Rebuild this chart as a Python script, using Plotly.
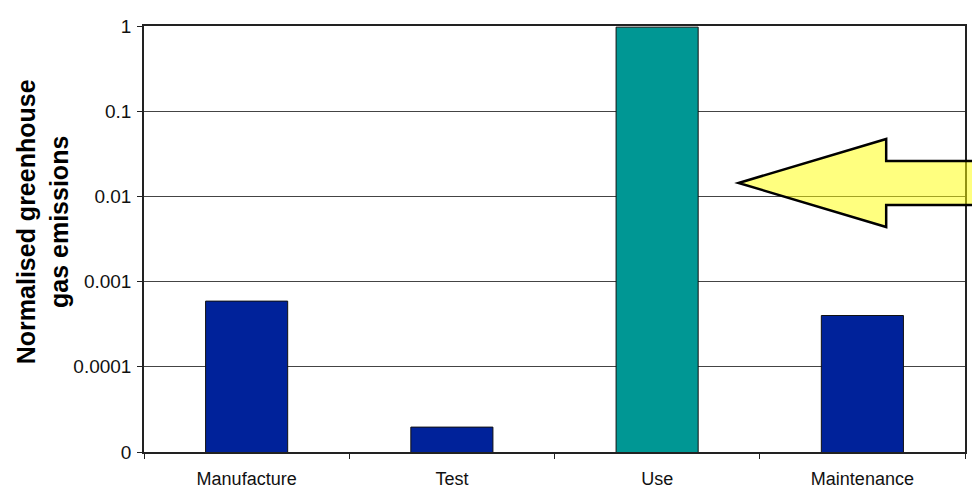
import plotly.graph_objects as go

categories = ["Manufacture", "Test", "Use", "Maintenance"]
emissions = [0.00059, 0.0000196, 0.97, 0.00040]
bar_colors = ["#00229A", "#00229A", "#009794", "#00229A"]
tick_vals = [1e-5, 1e-4, 1e-3, 1e-2, 1e-1, 1]
tick_text = ["0", "0.0001", "0.001", "0.01", "0.1", "1"]

FONT = "Liberation Sans, Arial, sans-serif"

fig = go.Figure()
fig.add_trace(go.Bar(
    x=categories, y=emissions, width=0.4,
    marker=dict(color=bar_colors, line=dict(color="#111111", width=1)),
    showlegend=False, hoverinfo="x+y",
))

# pixel helpers for decoration arrow (paper coordinates)
L, R, T, B = 144, 967, 26, 452
W, H = 972, 497
def px(x):
    return (x - L) / (R - L)
def py(y):
    return (B - y) / (B - T)

arrow = [(740, 183), (888, 139), (888, 161), (985, 161), (985, 205), (888, 205), (888, 227)]
path = "M " + " L ".join(f"{px(a):.4f},{py(b):.4f}" for a, b in arrow) + " Z"
fig.add_shape(type="path", xref="paper", yref="paper", path=path,
              fillcolor="rgba(255,255,0,0.5)", line=dict(color="black", width=2.5),
              layer="above")

fig.add_annotation(
    text="<b>Normalised greenhouse<br>gas emissions</b>",
    xref="paper", yref="paper", x=px(42), y=py(222),
    xanchor="center", yanchor="middle", textangle=-90, showarrow=False,
    font=dict(family=FONT, size=25, color="black"),
)

fig.update_layout(
    width=W, height=H,
    margin=dict(l=L, r=W - R, t=T, b=H - B),
    paper_bgcolor="white", plot_bgcolor="white",
    font=dict(family=FONT, size=18, color="black"),
    xaxis=dict(
        type="category", showline=True, linecolor="#222", linewidth=1.5, mirror=True,
        ticks="outside", tickson="boundaries", ticklen=5, tickcolor="#222",
        showgrid=False, ticklabelstandoff=10,
        tickfont=dict(family=FONT, size=18, color="#111"),
    ),
    yaxis=dict(
        type="log", range=[-5, 0], showline=True, linecolor="#222", linewidth=1.5,
        mirror=True, ticks="outside", ticklen=5, tickcolor="#222",
        tickvals=tick_vals, ticktext=tick_text,
        showgrid=True, gridcolor="#444", gridwidth=1.2,
        tickfont=dict(family=FONT, size=19, color="#111"),
        ticklabelstandoff=2, zeroline=False,
    ),
)

fig.write_html("out.html")
